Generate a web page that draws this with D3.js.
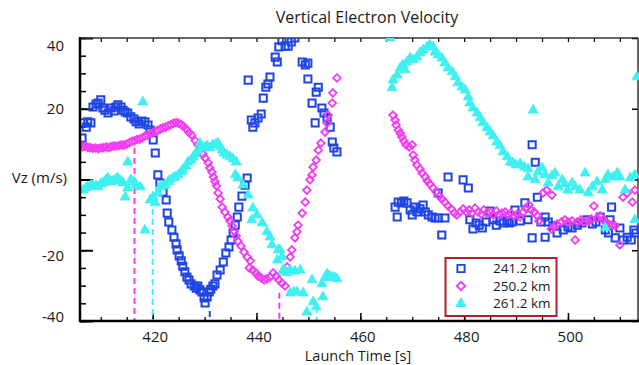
<!DOCTYPE html>
<html><head><meta charset="utf-8">
<script src="https://cdn.jsdelivr.net/npm/d3@7"></script>
<style>body{margin:0;background:#fff}svg{display:block;font-family:"Open Sans",sans-serif}</style>
</head><body><svg id="c" width="639" height="365"></svg>
<script>
const title = "Vertical Electron Velocity";
const xLabel = "Launch Time [s]";
const yLabel = "Vz (m/s)";
const xTickLabels = [420, 440, 460, 480, 500];
const yTickLabels = [40, 20, -20, -40];
const seriesNames = ["241.2 km", "250.2 km", "261.2 km"];

// [launch time (s), Vz (m/s)]
const s241 = [[406.4,11.7],[406.6,16.0],[407.2,14.8],[407.5,16.3],[408.1,16.0],[408.5,20.5],[409.1,21.3],[409.5,21.6],[410.0,22.5],[410.4,20.2],[410.8,19.6],[411.4,18.8],[412.0,20.2],[412.6,19.4],[412.9,20.5],[413.3,21.1],[413.9,20.5],[414.3,19.6],[414.7,19.1],[415.2,18.8],[415.8,17.7],[416.4,17.1],[416.8,16.3],[417.4,15.7],[417.9,16.5],[418.5,16.3],[419.1,15.4],[419.5,14.0],[420.1,11.2],[420.5,7.5],[421.0,1.3],[421.4,-1.0],[422.0,-3.5],[422.6,-5.8],[422.8,-9.5],[423.1,-12.0],[423.7,-14.3],[424.1,-16.3],[424.5,-18.2],[424.7,-19.9],[425.1,-21.6],[425.5,-23.0],[425.8,-24.5],[426.2,-26.1],[426.6,-27.6],[427.0,-28.4],[427.4,-29.5],[428.0,-30.1],[428.4,-30.7],[428.7,-30.1],[429.1,-31.2],[429.5,-31.8],[429.9,-33.5],[430.1,-34.9],[430.5,-33.2],[430.9,-31.8],[431.2,-31.0],[431.6,-30.1],[432.0,-29.5],[432.4,-27.0],[433.0,-25.6],[433.6,-23.3],[434.1,-20.8],[434.7,-19.1],[435.1,-17.1],[435.5,-15.1],[435.9,-12.9],[436.3,-10.6],[436.6,-7.8],[437.2,-4.7],[437.8,-1.6],[438.2,0.4],[438.4,28.1],[439.0,16.8],[439.3,14.8],[439.7,16.0],[440.3,17.4],[440.9,18.5],[441.3,23.0],[441.8,26.1],[442.2,27.0],[442.6,29.0],[443.6,34.6],[444.0,33.2],[444.3,37.5],[444.9,39.2],[445.5,37.7],[446.1,37.7],[446.7,38.9],[447.4,40.0],[448.8,33.2],[449.4,32.4],[449.9,32.9],[449.9,28.4],[450.7,21.6],[451.5,24.7],[451.9,26.1],[452.6,20.2],[453.0,18.8],[453.6,17.4],[451.3,16.0],[454.2,14.8],[454.6,10.6],[454.9,8.9],[455.5,7.8],
[466.7,-7.8],[467.3,-6.4],[467.9,-6.6],[468.4,-6.1],[469.0,-6.6],[467.1,-10.6],[469.6,-8.6],[470.0,-10.0],[470.5,-7.8],[470.9,-9.2],[471.5,-8.3],[472.1,-7.2],[472.5,-9.2],[473.1,-10.0],[473.8,-10.6],[474.4,-10.9],[475.0,-10.9],[475.7,-15.7],[476.3,-10.9],[476.9,0.7],[479.8,-0.1],[480.8,-2.4],[475.0,-3.8],[481.1,-11.4],[481.7,-14.0],[482.3,-12.3],[482.9,-12.9],[483.5,-13.7],[484.2,-12.0],[485.0,-8.9],[485.6,-11.4],[486.2,-12.9],[486.9,-11.7],[487.5,-12.3],[488.3,-11.7],[488.7,-12.3],[489.2,-12.0],[489.8,-8.6],[490.8,-11.7],[491.7,-6.6],[492.3,-11.4],[493.1,9.8],[493.7,4.9],[493.1,-16.5],[494.1,-5.0],[494.8,-12.0],[495.6,-16.3],[495.6,-10.6],[496.2,-12.0],[497.1,-13.1],[497.9,-15.1],[499.1,-14.3],[500.0,-13.4],[500.8,-13.7],[501.8,-12.9],[502.7,-12.3],[503.7,-11.4],[504.7,-12.6],[505.4,-12.0],[506.2,-10.6],[507.2,-14.3],[507.8,-15.1],[508.1,-11.4],[508.4,-7.8],[509.1,-16.5],[510.0,-13.7],[510.6,-17.1],[511.4,-16.3],[512.2,-17.1],[512.7,-14.3],[513.1,-15.1]];

const s250 = [[406.0,9.6],[406.5,9.3],[407.0,9.4],[407.5,9.1],[408.0,9.0],[408.5,8.8],[409.0,8.9],[409.5,8.7],[410.0,8.9],[410.5,9.0],[411.0,9.2],[411.5,9.0],[412.0,9.3],[412.5,9.5],[413.0,9.4],[413.5,9.6],[414.0,9.8],[414.5,9.7],[415.0,10.0],[415.5,10.4],[416.0,10.8],[416.5,11.0],[417.0,11.3],[417.5,11.4],[418.0,11.8],[418.5,12.3],[419.0,12.5],[419.5,12.9],[420.0,13.2],[420.5,13.6],[421.0,13.9],[421.5,14.3],[422.0,14.6],[422.5,14.8],[423.0,15.2],[423.5,15.5],[424.0,15.9],[424.5,16.1],[425.0,15.9],[425.5,15.5],[426.0,15.0],[426.5,14.2],[427.0,13.3],[427.5,12.6],[428.2,11.0],[428.7,9.8],[429.1,8.6],[429.7,7.2],[430.1,6.1],[430.7,4.7],[431.0,3.3],[431.4,2.1],[431.7,0.7],[432.0,-0.6],[432.3,-1.8],[432.6,-3.8],[433.0,-5.5],[433.4,-7.8],[433.9,-9.2],[434.5,-10.6],[434.9,-11.7],[435.3,-13.1],[435.7,-14.6],[436.1,-16.0],[436.4,-17.4],[437.0,-18.8],[437.6,-20.5],[438.2,-21.9],[438.8,-23.0],[438.6,-25.0],[439.3,-25.6],[439.9,-26.4],[440.3,-27.3],[440.9,-27.8],[441.5,-28.4],[442.0,-28.1],[442.6,-27.6],[443.2,-26.4],[443.8,-27.3],[444.3,-28.4],[444.9,-29.3],[445.5,-30.1],[445.9,-24.7],[446.5,-21.9],[446.8,-19.9],[447.4,-16.5],[447.8,-14.8],[448.0,-12.9],[448.8,-9.5],[449.4,-6.4],[449.7,-3.0],[450.3,-0.1],[450.7,1.3],[450.9,3.5],[451.5,5.5],[451.9,8.3],[452.4,10.3],[453.2,13.4],[453.6,16.0],[453.8,18.2],[454.6,21.6],[454.7,24.5],[455.5,28.7],
[466.3,18.2],[466.7,16.8],[466.9,15.4],[467.3,14.0],[467.7,13.1],[468.0,12.0],[468.4,10.9],[468.8,9.8],[469.4,9.2],[470.0,9.8],[470.2,6.9],[470.5,5.5],[470.9,4.1],[471.5,3.0],[471.9,1.8],[472.5,0.7],[472.9,-0.4],[473.4,-1.3],[474.0,-2.4],[474.6,-3.5],[475.2,-4.7],[475.7,-5.5],[476.3,-6.4],[476.9,-7.5],[477.5,-8.3],[478.1,-9.5],[478.6,-10.0],[479.2,-9.2],[479.8,-8.3],[480.4,-9.2],[481.0,-8.6],[481.5,-9.5],[482.1,-8.1],[482.7,-9.2],[483.3,-9.8],[483.8,-8.6],[484.4,-9.5],[485.0,-9.2],[485.6,-10.0],[486.2,-8.9],[486.7,-9.8],[487.3,-9.5],[487.9,-9.2],[488.5,-10.0],[489.0,-9.5],[489.6,-10.3],[490.2,-9.8],[490.8,-10.6],[491.4,-9.2],[491.9,-8.1],[492.5,-7.2],[492.9,-8.6],[493.5,-9.2],[494.1,-10.3],[494.4,-11.7],[495.2,-3.8],[495.9,-3.0],[496.9,-4.4],[496.8,-14.0],[497.3,-13.4],[497.9,-12.6],[498.7,-12.0],[499.4,-11.4],[500.0,-12.0],[500.8,-11.7],[501.4,-17.1],[501.8,-12.0],[502.5,-11.4],[503.1,-12.0],[503.9,-11.7],[504.5,-11.2],[505.0,-7.5],[505.6,-10.9],[506.2,-10.3],[506.8,-11.4],[507.3,-12.0],[507.9,-12.6],[508.5,-12.9],[509.1,-13.1],[510.0,-18.5],[510.6,-5.0],[511.4,-3.8],[512.4,-6.4],[512.9,-3.0]];

const s261 = [[406.6,-3.0],[407.2,-2.4],[407.5,-2.1],[408.1,-1.6],[408.5,-1.6],[409.1,-1.8],[409.5,-2.1],[410.0,-1.3],[410.4,-1.0],[411.0,-0.1],[411.4,0.4],[412.0,-0.7],[412.4,-0.4],[412.9,0.1],[413.3,0.4],[413.9,-0.4],[414.3,-1.0],[414.7,-5.0],[415.2,-2.4],[415.2,4.9],[415.8,-0.1],[416.4,-0.7],[416.8,-1.6],[417.6,-2.1],[418.1,21.9],[418.5,-14.3],[419.5,-5.8],[420.1,-4.9],[420.5,-6.6],[421.0,-3.8],[421.4,-2.1],[422.0,-1.8],[422.4,-1.6],[423.0,-0.7],[423.3,-0.1],[423.9,0.4],[424.3,0.7],[424.9,1.3],[425.5,2.1],[425.8,2.7],[426.4,3.8],[426.8,4.9],[427.4,5.5],[427.8,6.4],[428.2,7.2],[428.7,8.1],[429.1,10.3],[429.5,8.9],[430.1,9.2],[430.5,9.5],[431.0,8.9],[431.6,9.8],[432.2,10.0],[432.6,10.3],[433.0,9.2],[433.4,8.3],[433.7,7.5],[434.3,6.9],[434.9,6.4],[435.5,5.8],[436.1,4.9],[435.9,1.3],[436.4,0.4],[437.4,-1.6],[438.4,-4.4],[439.3,-8.1],[439.1,-11.4],[440.1,-10.0],[441.1,-12.3],[442.0,-14.8],[442.6,-16.3],[443.0,-18.5],[444.2,-19.9],[444.0,-22.8],[444.5,-19.9],[444.9,-21.9],[445.1,-25.6],[445.5,-25.9],[445.9,-26.4],[446.5,-25.6],[447.4,-25.9],[448.4,-25.6],[446.5,-32.1],[447.2,-31.8],[447.8,-31.8],[449.0,-32.1],[449.7,-37.5],[450.7,-28.4],[450.9,-34.6],[451.5,-36.0],[452.6,-29.5],[452.8,-33.2],[453.2,-27.8],[453.6,-26.7],[454.0,-27.3],[454.6,-27.6],[455.1,-27.8],[455.5,-28.1],
[465.7,40.0],[466.1,25.9],[466.3,28.1],[467.1,29.5],[467.7,31.5],[468.2,32.4],[468.6,31.0],[469.0,33.2],[469.6,34.3],[470.2,33.8],[470.9,34.6],[471.5,35.8],[472.1,36.6],[472.9,37.5],[473.4,38.0],[474.0,37.5],[474.4,36.0],[475.0,35.2],[475.7,34.3],[476.3,32.9],[476.9,31.5],[477.7,30.4],[478.3,29.0],[478.8,27.3],[479.6,26.1],[480.2,25.3],[480.8,23.3],[481.1,21.6],[481.7,20.2],[482.5,18.8],[483.1,17.4],[483.6,16.0],[484.4,14.6],[485.0,13.4],[485.6,12.3],[486.3,10.6],[486.9,9.5],[487.5,7.8],[488.3,6.4],[488.9,4.9],[489.4,4.7],[490.0,4.1],[490.8,4.4],[491.6,3.5],[492.3,3.0],[492.3,0.7],[493.3,19.6],[493.7,-0.1],[494.2,2.1],[495.0,3.3],[495.6,1.3],[496.2,-1.0],[496.9,1.0],[497.5,1.8],[498.1,-2.1],[498.9,-0.1],[499.4,-1.3],[500.0,-3.0],[500.8,-1.0],[501.4,-2.1],[502.3,-3.0],[503.3,1.8],[503.9,-3.8],[504.7,-2.1],[505.6,-0.7],[506.6,-3.0],[507.2,-0.1],[507.2,-13.7],[507.7,1.3],[508.7,0.7],[509.5,1.8],[510.0,0.7],[511.0,-3.0],[512.0,0.4],[512.9,1.3],[512.9,-11.4],[513.3,29.0]];

// vertical dashed markers: [time, top Vz, bottom Vz, series index]
const markerLines = [[416.5, 8.9, -40, 1], [420.0, -5.5, -40, 2], [431.0, -37.2, -40, 0], [444.4, -32.0, -40, 1], [451.6, -36.0, -40, 2]];

const colors = ["#1f44e6", "#f23cf2", "#3ff0f0"];
const svg = d3.select("#c");
const x = d3.scaleLinear().domain([406, 513.3]).range([80, 637]);
const y = d3.scaleLinear().domain([-40, 40]).range([321, 38]);

svg.append("defs").append("clipPath").attr("id", "clip")
  .append("rect").attr("x", 80).attr("y", 38).attr("width", 559).attr("height", 283);

// Title
svg.append("text").attr("x", 367).attr("y", 23).attr("text-anchor", "middle")
  .attr("font-size", 16).attr("fill", "#1a1a1a").text(title);

// Axes ticks
function cleanAxis(g) { g.select(".domain").remove(); g.selectAll("line").attr("stroke", "#000"); }
svg.append("g").attr("transform", "translate(0,321)")
  .call(d3.axisBottom(x).tickValues(d3.range(410, 514, 5)).tickSize(-4).tickFormat(""))
  .call(cleanAxis).selectAll("line").attr("stroke-width", 1.3);
svg.append("g").attr("transform", "translate(0,321)")
  .call(d3.axisBottom(x).tickValues(xTickLabels).tickSize(-8).tickPadding(10))
  .call(cleanAxis)
  .call(g => g.selectAll("line").attr("stroke-width", 1.5))
  .call(g => g.selectAll("text").attr("font-size", 15).attr("fill", "#1a1a1a").attr("font-family", "Open Sans").attr("dx", 2));
svg.append("g").attr("transform", "translate(0,38)")
  .call(d3.axisTop(x).tickValues(d3.range(410, 514, 5)).tickSize(-4).tickFormat(""))
  .call(cleanAxis).selectAll("line").attr("stroke-width", 1.2);
svg.append("g").attr("transform", "translate(80,0)")
  .call(d3.axisLeft(y).tickValues(d3.range(-40, 41, 5)).tickSize(-6).tickFormat(""))
  .call(cleanAxis).selectAll("line").attr("stroke-width", 1.5);
svg.append("g").attr("transform", "translate(80,0)")
  .call(d3.axisLeft(y).tickValues([-40, -20, 0, 20, 40]).tickSize(-13).tickFormat(""))
  .call(cleanAxis).selectAll("line").attr("stroke-width", 2);
svg.append("g").attr("transform", "translate(638,0)")
  .call(d3.axisRight(y).tickValues([-40, -20, 0, 20, 40]).tickSize(-6).tickFormat(""))
  .call(cleanAxis).selectAll("line").attr("stroke-width", 1.5);

// y tick labels
const yLabOffset = v => v === 40 ? 8 : v === -40 ? -4 : v < 0 ? 5 : 0;
svg.append("g").selectAll("text").data(yTickLabels).join("text")
  .attr("x", 64).attr("y", v => y(v) + yLabOffset(v)).attr("dy", "0.35em")
  .attr("text-anchor", "end").attr("font-size", 15).attr("fill", "#1a1a1a").text(d => d);

// Axis frame lines
svg.append("line").attr("x1", 80).attr("x2", 638).attr("y1", 38).attr("y2", 38).attr("stroke", "#333").attr("stroke-width", 1.5);
svg.append("line").attr("x1", 638).attr("x2", 638).attr("y1", 38).attr("y2", 321).attr("stroke", "#333").attr("stroke-width", 1.5);

// axis titles
svg.append("text").attr("x", 358).attr("y", 361).attr("text-anchor", "middle")
  .attr("font-size", 14.5).attr("fill", "#1a1a1a").text(xLabel);
svg.append("text").attr("x", 67).attr("y", y(0) - 2).attr("dy", "0.35em").attr("text-anchor", "end")
  .attr("font-size", 15).attr("fill", "#1a1a1a").text(yLabel);

const plot = svg.append("g").attr("clip-path", "url(#clip)");

// dashed marker lines
plot.selectAll("line.mk").data(markerLines).join("line").attr("class", "mk")
  .attr("x1", d => x(d[0])).attr("x2", d => x(d[0]))
  .attr("y1", d => y(d[1])).attr("y2", d => y(d[2]))
  .attr("stroke", d => colors[d[3]]).attr("stroke-width", 2).attr("stroke-dasharray", "6,4");

const sq = d3.symbol().type(d3.symbolSquare).size(50)();
const diamond = "M0,-3.8L3.8,0L0,3.8L-3.8,0Z";
const tri = d3.symbol().type(d3.symbolTriangle).size(44)();

plot.append("g").selectAll("path").data(s241).join("path")
  .attr("transform", d => `translate(${x(d[0])},${y(d[1])})`).attr("d", sq)
  .attr("fill", "none").attr("stroke", colors[0]).attr("stroke-width", 2);
plot.append("g").selectAll("path").data(s250).join("path")
  .attr("transform", d => `translate(${x(d[0])},${y(d[1])})`).attr("d", diamond)
  .attr("fill", "none").attr("stroke", colors[1]).attr("stroke-width", 1.8);
plot.append("g").selectAll("path").data(s261).join("path")
  .attr("transform", d => `translate(${x(d[0])},${y(d[1])})`).attr("d", tri)
  .attr("fill", colors[2]).attr("stroke", colors[2]).attr("stroke-width", 0.8);

// axis main lines (on top)
svg.append("line").attr("x1", 80).attr("x2", 80).attr("y1", 37).attr("y2", 322).attr("stroke", "#000").attr("stroke-width", 2.5);
svg.append("line").attr("x1", 79).attr("x2", 639).attr("y1", 321).attr("y2", 321).attr("stroke", "#000").attr("stroke-width", 2.5);

// Legend
const lg = svg.append("g");
lg.append("rect").attr("x", 445.5).attr("y", 258).attr("width", 111).attr("height", 58)
  .attr("fill", "#fff").attr("stroke", "#b01e2a").attr("stroke-width", 2);
const shapes = [d3.symbol().type(d3.symbolSquare).size(52)(), "M0,-4.2L4.2,0L0,4.2L-4.2,0Z", d3.symbol().type(d3.symbolTriangle).size(60)()];
seriesNames.forEach((n, i) => {
  const yy = 268.5 + i * 17.5;
  const p = lg.append("path").attr("transform", `translate(461,${yy})`).attr("d", shapes[i]);
  if (i === 2) p.attr("fill", colors[2]);
  else p.attr("fill", "none").attr("stroke", colors[i]).attr("stroke-width", 1.9);
  lg.append("text").attr("x", 493).attr("y", yy).attr("dy", "0.35em").attr("font-size", 13.5)
    .attr("fill", "#1a1a1a").text(n);
});
</script></body></html>
